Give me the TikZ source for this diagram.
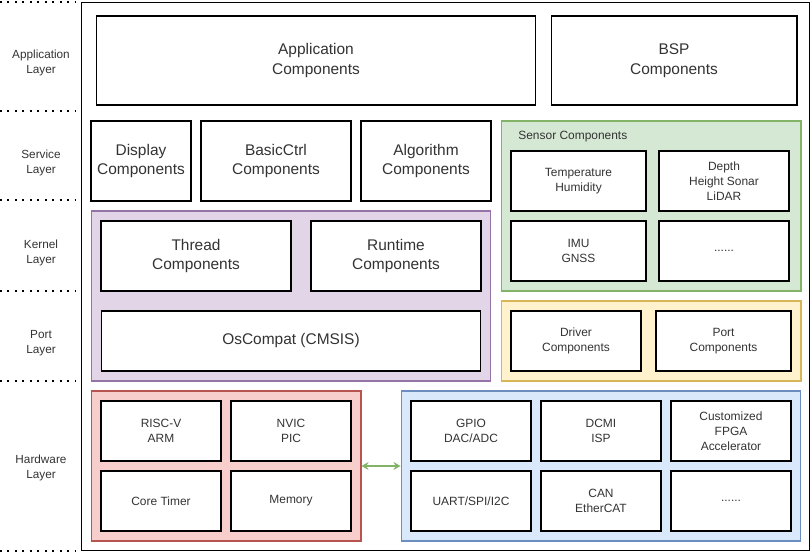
\documentclass[tikz,border=0pt]{standalone}
\usepackage{fontspec}
\setmainfont{Liberation Sans}
\usetikzlibrary{arrows.meta}

\definecolor{txtgray}{HTML}{333333}
\definecolor{purpfill}{HTML}{E1D5E7}
\definecolor{purpline}{HTML}{9673A6}
\definecolor{grnfill}{HTML}{D5E8D4}
\definecolor{grnline}{HTML}{82B366}
\definecolor{ylwfill}{HTML}{FFF2CC}
\definecolor{ylwline}{HTML}{D6B656}
\definecolor{redfill}{HTML}{F8CECC}
\definecolor{redline}{HTML}{B85450}
\definecolor{blufill}{HTML}{DAE8FC}
\definecolor{bluline}{HTML}{6C8EBF}

\tikzset{
  comp/.style={draw, fill=white, inner sep=0pt, align=center, text=txtgray,
    font=\fontsize{6.8}{8.5}\selectfont},
  bigcomp/.style={comp, font=\fontsize{8.8}{11.3}\selectfont},
  cell/.style={comp, minimum width=2.4cm, minimum height=1.2cm},
  group/.style 2 args={draw=#1, fill=#2, inner sep=0pt},
  layername/.style={align=center, text=txtgray, font=\fontsize{6.7}{8.9}\selectfont},
  sep/.style={line width=1.1pt, dash pattern=on 1.1pt off 3.15pt},
}

\begin{document}
\begin{tikzpicture}[x=0.02cm, y=-0.02cm, line width=0.6pt]

  \useasboundingbox (0,0) rectangle (812,554);

  \foreach \y in {2,111,200,291,381,551} {
    \draw[sep] (0,\y) -- (76,\y);
  }

  \node[layername] (lapp) at (41,63) {Application\\Layer};
  \node[layername] (lsrv) at (41,163) {Service\\Layer};
  \node[layername] (lker) at (41,253) {Kernel\\Layer};
  \node[layername] (lprt) at (41,343) {Port\\Layer};
  \node[layername] (lhw)  at (41,468) {Hardware\\Layer};

  \node[draw, minimum width=14.58cm, minimum height=10.98cm] (frame) at (445.5,276.5) {};

  % application layer
  \node[bigcomp, minimum width=8.8cm, minimum height=1.78cm] (app) at (316,60.5) {Application\\Components};
  \node[bigcomp, minimum width=4.92cm, minimum height=1.78cm] (bsp) at (674,60.5) {BSP\\Components};

  % service layer
  \node[bigcomp, minimum width=2cm, minimum height=1.6cm] (disp) at (141,161) {Display\\Components};
  \node[bigcomp, minimum width=3cm, minimum height=1.6cm] (ctrl) at (276,161) {BasicCtrl\\Components};
  \node[bigcomp, minimum width=2.6cm, minimum height=1.6cm] (algo) at (426,161) {Algorithm\\Components};

  \node[group={grnline}{grnfill}, minimum width=6cm, minimum height=3.4cm] (sensor) at (651,206) {};
  \node[anchor=west, text=txtgray, font=\fontsize{6.8}{8.5}\selectfont]
    (sensortitle) at (512,137) {Sensor Components};
  \node[comp, minimum width=2.7cm, minimum height=1.2cm] (temp) at (578.5,181) {Temperature\\Humidity};
  \node[comp, minimum width=2.6cm, minimum height=1.2cm] (depth) at (724,181) {Depth\\Height Sonar\\LiDAR};
  \node[comp, minimum width=2.7cm, minimum height=1.2cm] (imu) at (578.5,251) {IMU\\GNSS};
  \node[comp, minimum width=2.6cm, minimum height=1.2cm] (more1) at (724,251) {......};

  % kernel and port layer
  \node[group={purpline}{purpfill}, minimum width=8cm, minimum height=3.4cm] (kernel) at (291,296) {};
  \node[bigcomp, minimum width=3.8cm, minimum height=1.4cm] (thread) at (196,256) {Thread\\Components};
  \node[bigcomp, minimum width=3.4cm, minimum height=1.4cm] (runtime) at (396,256) {Runtime\\Components};
  \node[bigcomp, minimum width=7.6cm, minimum height=1.2cm] (oscompat) at (291,341) {OsCompat (CMSIS)};

  \node[group={ylwline}{ylwfill}, minimum width=6cm, minimum height=1.6cm] (port) at (651,341) {};
  \node[comp, minimum width=2.6cm, minimum height=1.2cm] (driver) at (576,341) {Driver\\Components};
  \node[comp, minimum width=2.7cm, minimum height=1.2cm] (portc) at (723.5,341) {Port\\Components};

  % hardware layer
  \node[group={redline}{redfill}, minimum width=5.4cm, minimum height=3cm] (cpu) at (226,466) {};
  \node[cell] (isa) at (161,431) {RISC-V\\ARM};
  \node[cell] (nvic) at (291,431) {NVIC\\PIC};
  \node[cell] (timer) at (161,501) {Core Timer};
  \node[cell] (mem) at (291,501) {Memory};

  \node[group={bluline}{blufill}, minimum width=8cm, minimum height=3cm] (periph) at (601,466) {};
  \node[cell] (gpio) at (471,431) {GPIO\\DAC/ADC};
  \node[cell] (dcmi) at (601,431) {DCMI\\ISP};
  \node[cell] (fpga) at (731,431) {Customized\\FPGA\\Accelerator};
  \node[cell] (uart) at (471,501) {UART/SPI/I2C};
  \node[cell] (can) at (601,501) {CAN\\EtherCAT};
  \node[cell] (more2) at (731,501) {......};

  \draw[{Stealth[length=4pt,width=4.5pt]}-{Stealth[length=4pt,width=4.5pt]}, grnline]
    (cpu) -- (periph);

\end{tikzpicture}
\end{document}
